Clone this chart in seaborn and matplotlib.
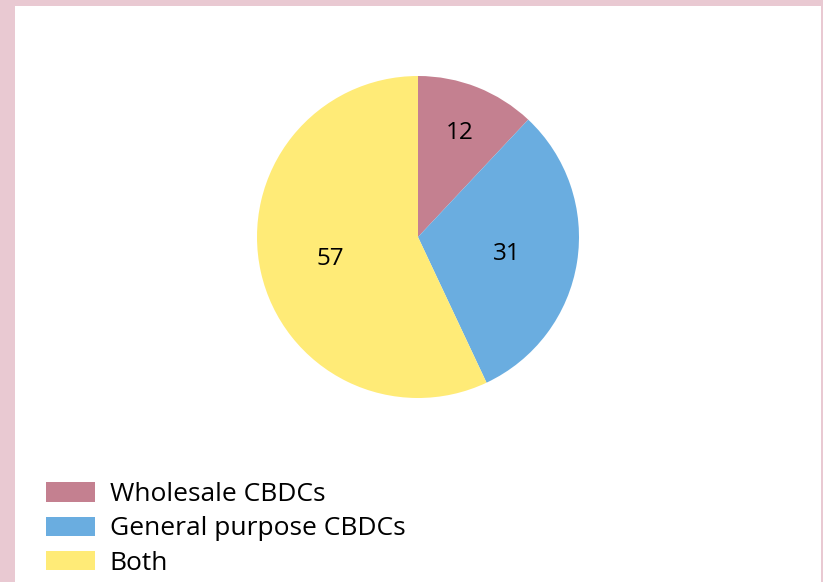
import matplotlib
matplotlib.use('Agg')
import matplotlib.pyplot as plt
from matplotlib.patches import Rectangle, Patch
import seaborn as sns
import numpy as np

sns.set_theme(style='white')
plt.rcParams['font.family'] = ['Open Sans', 'DejaVu Sans']

categories = ['Wholesale CBDCs', 'General purpose CBDCs', 'Both']
values = [12, 31, 57]
colors = ['#c48090', '#6aade0', '#ffeb77']
label_dist = [0.71, 0.56, 0.56]

W, H = 823, 582
fig = plt.figure(figsize=(W / 100, H / 100), dpi=100)
fig.patch.set_facecolor('#e9c9d2')
fig.patches.append(Rectangle((15 / W, 0), (821 - 15) / W, (582 - 6) / H,
                             transform=fig.transFigure, facecolor='white',
                             edgecolor='none', zorder=-5))

# pie centred at (418, 237) px, radius 161 px
cx, cy, r = 418, 237, 161
ax = fig.add_axes([(cx - r) / W, (H - cy - r) / H, 2 * r / W, 2 * r / H])
ax.set_zorder(2)
ax.patch.set_alpha(0)
wedges, _ = ax.pie(values, colors=colors, startangle=90, counterclock=False,
                   radius=1, wedgeprops={'linewidth': 0})
for w, v, d in zip(wedges, values, label_dist):
    ang = np.deg2rad((w.theta1 + w.theta2) / 2)
    ax.text(d * np.cos(ang), d * np.sin(ang) - 0.015, str(v), ha='center',
            va='center', fontsize=17.5, color='black')
ax.set_xlim(-1, 1)
ax.set_ylim(-1, 1)
ax.set_aspect('equal')
ax.axis('off')

handles = [Patch(facecolor=c, edgecolor='none') for c in colors]
leg = fig.legend(handles, categories, loc='upper left',
                 bbox_to_anchor=(33 / W, 1 - 469 / H), frameon=False,
                 fontsize=19, handlelength=1.85, handleheight=0.75,
                 labelspacing=0.35, handletextpad=0.55, borderpad=0)
for t in leg.get_texts():
    t.set_color('black')
leg.set_zorder(3)

plt.savefig('out.png', dpi=100, facecolor=fig.get_facecolor())
plt.close()
